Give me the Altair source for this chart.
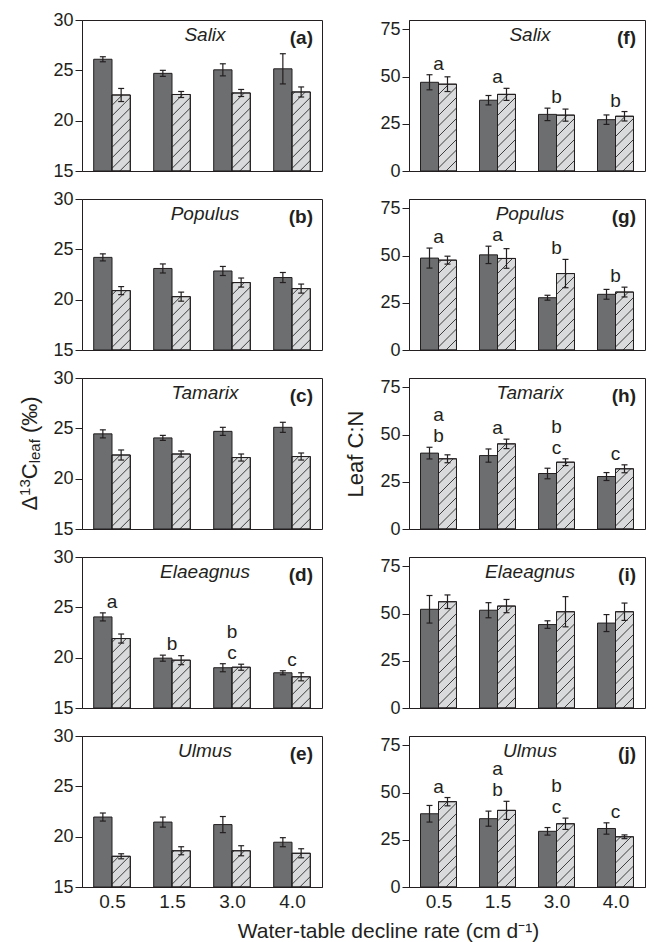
import altair as alt
import pandas as pd

# ---------------- data ----------------
rates = ["0.5", "1.5", "3.0", "4.0"]
species = ["Salix", "Populus", "Tamarix", "Elaeagnus", "Ulmus"]
labels_left = ["(a)", "(b)", "(c)", "(d)", "(e)"]
labels_right = ["(f)", "(g)", "(h)", "(i)", "(j)"]

# Delta13C leaf (per mil): solid (dark) and hatched bars, with error bars
d13c_solid = {
    "Salix": [26.1, 24.7, 25.05, 25.15],
    "Populus": [24.2, 23.1, 22.85, 22.2],
    "Tamarix": [24.45, 24.05, 24.7, 25.1],
    "Elaeagnus": [24.05, 19.95, 19.0, 18.5],
    "Ulmus": [21.95, 21.45, 21.2, 19.45],
}
d13c_solid_err = {
    "Salix": [0.25, 0.3, 0.6, 1.5],
    "Populus": [0.35, 0.45, 0.45, 0.5],
    "Tamarix": [0.4, 0.25, 0.4, 0.5],
    "Elaeagnus": [0.4, 0.3, 0.4, 0.2],
    "Ulmus": [0.4, 0.5, 0.8, 0.45],
}
d13c_hatched = {
    "Salix": [22.55, 22.6, 22.75, 22.85],
    "Populus": [20.9, 20.3, 21.7, 21.1],
    "Tamarix": [22.35, 22.45, 22.1, 22.2],
    "Elaeagnus": [21.9, 19.75, 19.05, 18.1],
    "Ulmus": [18.05, 18.6, 18.6, 18.35],
}
d13c_hatched_err = {
    "Salix": [0.65, 0.3, 0.35, 0.5],
    "Populus": [0.4, 0.45, 0.45, 0.45],
    "Tamarix": [0.5, 0.3, 0.35, 0.35],
    "Elaeagnus": [0.45, 0.45, 0.3, 0.4],
    "Ulmus": [0.25, 0.4, 0.5, 0.45],
}
d13c_letters = {"Elaeagnus": ["a", "b", "b\nc", "c"]}

# Leaf C:N
cn_solid = {
    "Salix": [47.0, 37.5, 30.0, 27.2],
    "Populus": [48.7, 50.4, 27.7, 29.5],
    "Tamarix": [40.2, 38.9, 29.4, 27.8],
    "Elaeagnus": [52.3, 51.8, 44.2, 45.0],
    "Ulmus": [38.8, 36.2, 29.5, 31.0],
}
cn_solid_err = {
    "Salix": [4.0, 2.5, 3.3, 2.5],
    "Populus": [5.3, 4.6, 1.3, 2.6],
    "Tamarix": [3.1, 3.5, 2.8, 2.1],
    "Elaeagnus": [7.3, 4.0, 2.0, 4.5],
    "Ulmus": [4.4, 4.0, 2.0, 3.0],
}
cn_hatched = {
    "Salix": [46.0, 40.6, 29.6, 29.0],
    "Populus": [47.6, 48.5, 40.5, 30.7],
    "Tamarix": [37.2, 45.1, 35.4, 31.9],
    "Elaeagnus": [56.3, 54.0, 51.0, 51.0],
    "Ulmus": [45.2, 40.6, 33.5, 26.6],
}
cn_hatched_err = {
    "Salix": [3.9, 3.2, 3.2, 2.5],
    "Populus": [2.1, 5.2, 7.5, 2.6],
    "Tamarix": [2.1, 2.5, 1.8, 2.1],
    "Elaeagnus": [3.6, 3.5, 8.0, 4.6],
    "Ulmus": [2.2, 4.8, 3.0, 1.0],
}
cn_letters = {
    "Salix": ["a", "a", "b", "b"],
    "Populus": ["a", "a", "b", "b"],
    "Tamarix": ["a\nb", "a", "b\nc", "c"],
    "Ulmus": ["a", "a\nb", "b\nc", "c"],
}

left_domain, left_ticks = [15, 30], [15, 20, 25, 30]
right_domain, right_ticks = [0, 80], [0, 25, 50, 75]

# ---------------- styling ----------------
FONT = "Liberation Sans"
INK = "#231f20"
DARK = "#6d6e70"
LIGHT = "#d9dadb"
W_L, W_R, H = 240, 236, 151
BW = 0.305        # bar width, in category units
HATCH_GAP = 10.5  # px between hatch lines
CAP = 3.0         # px half width of error caps
LINE_H = 21       # line height of stacked significance letters

label_expr = "[" + ",".join("'%s'" % r for r in rates) + "][floor(datum.value)]"


def make_panel(sp, lab, solid, serr, hatched, herr, letters, ydom, yticks, W,
               show_x, axis_title=None, extra=None):
    pxx = W / 4.0
    pxy = H / float(ydom[1] - ydom[0])
    ymin = ydom[0]
    rows = []
    for i in range(4):
        c = i + 0.5
        rows.append(dict(kind="s", x0=c - BW, x1=c, v=solid[i], e=serr[i]))
        rows.append(dict(kind="h", x0=c, x1=c + BW, v=hatched[i], e=herr[i]))
    df = pd.DataFrame(rows)
    df["base"] = ymin
    df["xm"] = (df.x0 + df.x1) / 2
    df["lo"] = df.v - df.e
    df["hi"] = df.v + df.e
    df["cl"] = df.xm - CAP / pxx
    df["cr"] = df.xm + CAP / pxx

    # diagonal hatch segments clipped to each hatched bar
    segs = []
    for r in rows:
        if r["kind"] != "h":
            continue
        wpx = (r["x1"] - r["x0"]) * pxx
        hpx = (r["v"] - ymin) * pxy
        k = 1
        while True:
            cc = -wpx + k * HATCH_GAP
            if cc >= hpx:
                break
            xs = max(0.0, -cc)
            xe = min(wpx, hpx - cc)
            if xe > xs:
                segs.append(dict(hx=r["x0"] + xs / pxx, hx2=r["x0"] + xe / pxx,
                                 hy=ymin + (xs + cc) / pxy, hy2=ymin + (xe + cc) / pxy))
            k += 1
    hatch_df = pd.DataFrame(segs)

    xscale = alt.Scale(domain=[0, 4], nice=False, zero=False)
    yscale = alt.Scale(domain=ydom, nice=False, zero=False)
    if show_x:
        xaxis = alt.Axis(values=[0.5, 1.5, 2.5, 3.5], labelExpr=label_expr, ticks=False,
                         labelFontSize=19, labelPadding=5, grid=False, title=None)
    else:
        xaxis = None
    yaxis = alt.Axis(values=yticks, tickSize=7, labelPadding=2, grid=False,
                     title=axis_title if axis_title else None,
                     titleFontSize=22, titleFontWeight="normal", titlePadding=12)

    def X(f):
        return alt.X(f, scale=xscale, axis=xaxis, title=None)

    def Y(f):
        return alt.Y(f, scale=yscale, axis=yaxis, title=axis_title if axis_title else None)

    ds = df[df.kind == "s"]
    dh = df[df.kind == "h"]
    layers = [
        alt.Chart(ds).mark_rect(fill=DARK, stroke=INK, strokeWidth=1).encode(
            x=X("x0:Q"), x2="x1", y=Y("v:Q"), y2="base"),
        alt.Chart(dh).mark_rect(fill=LIGHT, stroke=INK, strokeWidth=1).encode(
            x=X("x0:Q"), x2="x1", y=Y("v:Q"), y2="base"),
        alt.Chart(hatch_df).mark_rule(stroke="#2a2a2a", strokeWidth=0.9).encode(
            x=X("hx:Q"), x2="hx2", y=Y("hy:Q"), y2="hy2"),
        alt.Chart(dh).mark_rect(fillOpacity=0, stroke=INK, strokeWidth=1).encode(
            x=X("x0:Q"), x2="x1", y=Y("v:Q"), y2="base"),
        alt.Chart(df).mark_rule(stroke=INK, strokeWidth=1.2).encode(
            x=X("xm:Q"), y=Y("lo:Q"), y2="hi"),
        alt.Chart(df).mark_rule(stroke=INK, strokeWidth=1.2).encode(
            x=X("cl:Q"), x2="cr", y=Y("hi:Q")),
        alt.Chart(df).mark_rule(stroke=INK, strokeWidth=1.2).encode(
            x=X("cl:Q"), x2="cr", y=Y("lo:Q")),
    ]
    if letters:
        lrows = []
        for i in range(4):
            top = max(solid[i] + serr[i], hatched[i] + herr[i])
            for lvl, t in enumerate(reversed(letters[i].split("\n"))):
                lrows.append(dict(c=i + 0.5, top=top, t=t, lvl=lvl))
        ldf = pd.DataFrame(lrows)
        for lvl in sorted(ldf.lvl.unique()):
            layers.append(alt.Chart(ldf[ldf.lvl == lvl]).mark_text(
                font=FONT, fontSize=19, color=INK, baseline="bottom",
                dy=-1 - LINE_H * int(lvl)).encode(
                x=X("c:Q"), y=Y("top:Q"), text="t:N"))
    layers.append(alt.Chart(pd.DataFrame({"t": [sp]})).mark_text(
        font=FONT, fontSize=19, fontStyle="italic", color=INK, align="center",
        baseline="alphabetic").encode(text="t:N", x=alt.value(W / 2 + 3), y=alt.value(20.5)))
    layers.append(alt.Chart(pd.DataFrame({"t": [lab]})).mark_text(
        font=FONT, fontSize=19, fontWeight="bold", color=INK, align="right",
        baseline="alphabetic").encode(text="t:N", x=alt.value(W - 9), y=alt.value(24)))
    if extra:
        layers.extend(extra)
    return alt.layer(*layers).properties(width=W, height=H)


# left y-axis title built from pieces: Delta 13C leaf (per mil)
MAIN, SMALL = 22, 15
pieces = [("Δ", MAIN, -45.5, 0.667), ("13", SMALL, -52.0, 1.112),
          ("C", MAIN, -45.5, 0.722), ("leaf", SMALL, -42.0, 1.612),
          ("(‰)", MAIN, -45.5, 1.666)]
gaps = [0, 0, 0, 0, 0.278 * MAIN]
total = sum(fs * w for _, fs, _, w in pieces) + sum(gaps)
ypos = H / 2 + total / 2
title_layers = []
for (txt, fs, bx, w), g in zip(pieces, gaps):
    ypos -= g
    title_layers.append(alt.Chart(pd.DataFrame({"t": [txt]})).mark_text(
        font=FONT, fontSize=fs, color=INK, angle=270, align="left",
        baseline="alphabetic").encode(text="t:N", x=alt.value(bx), y=alt.value(ypos)))
    ypos -= fs * w

panels = []
for k, sp in enumerate(species):
    panels.append(make_panel(
        sp, labels_left[k], d13c_solid[sp], d13c_solid_err[sp], d13c_hatched[sp],
        d13c_hatched_err[sp], d13c_letters.get(sp), left_domain, left_ticks, W_L,
        show_x=(k == 4), extra=title_layers if k == 2 else None))
    panels.append(make_panel(
        sp, labels_right[k], cn_solid[sp], cn_solid_err[sp], cn_hatched[sp],
        cn_hatched_err[sp], cn_letters.get(sp), right_domain, right_ticks, W_R,
        show_x=(k == 4), axis_title="Leaf C:N" if k == 2 else None))

chart = alt.concat(*panels, columns=2, spacing={"row": 28, "column": 87},
                   bounds="flush").properties(
    title=alt.TitleParams("Water-table decline rate (cm d⁻¹)", orient="bottom",
                          anchor="middle", fontSize=21, fontWeight="normal",
                          font=FONT, color=INK, offset=9, dx=57),
    padding={"left": 9, "top": 2, "right": 0, "bottom": 0},
).configure(font=FONT).configure_view(stroke=INK, strokeWidth=1).configure_axis(
    labelFont=FONT, titleFont=FONT, labelColor=INK, titleColor=INK,
    tickColor=INK, domainColor=INK, labelFontSize=18, tickWidth=1, domainWidth=1)

chart.save("out.html", embed_options={"renderer": "svg", "actions": False})
